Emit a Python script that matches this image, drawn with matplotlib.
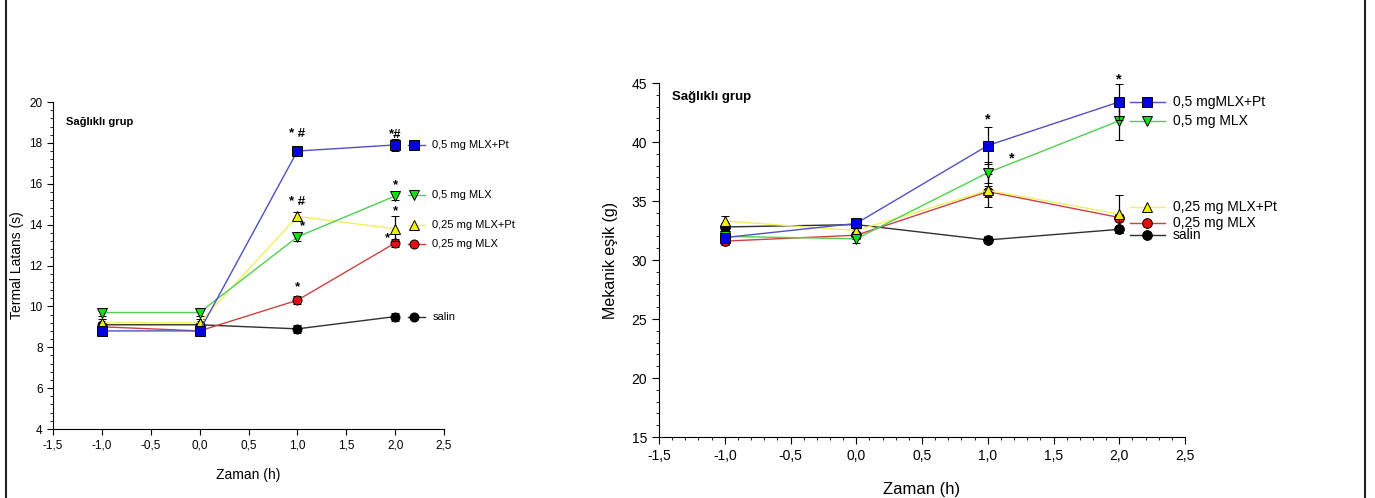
import matplotlib
matplotlib.use("Agg")
import matplotlib.pyplot as plt
from matplotlib.ticker import MultipleLocator, FuncFormatter
from matplotlib.lines import Line2D

plt.rcParams["font.family"] = ["Liberation Sans", "DejaVu Sans"]

# time points (h)
t = [-1.0, 0.0, 1.0, 2.0]

# left panel: thermal latency (s)
names_l = ["0,5 mg MLX+Pt", "0,5 mg MLX", "0,25 mg MLX+Pt", "0,25 mg MLX", "salin"]
therm = {
    "0,5 mg MLX+Pt": [8.8, 8.8, 17.6, 17.9],
    "0,5 mg MLX": [9.7, 9.7, 13.4, 15.4],
    "0,25 mg MLX+Pt": [9.2, 9.2, 14.4, 13.8],
    "0,25 mg MLX": [9.0, 8.8, 10.3, 13.1],
    "salin": [9.1, 9.1, 8.9, 9.5],
}
therm_err = {
    "0,5 mg MLX+Pt": [0.15, 0.15, 0.15, 0.3],
    "0,5 mg MLX": [0.15, 0.15, 0.2, 0.2],
    "0,25 mg MLX+Pt": [0.2, 0.2, 0.2, 0.6],
    "0,25 mg MLX": [0.15, 0.15, 0.2, 0.2],
    "salin": [0.15, 0.15, 0.2, 0.2],
}
leg_y_l = [17.9, 15.45, 14.0, 13.05, 9.5]
# significance marks: (x, y, text)
marks_l = [(1.0, 18.45, "* #"), (2.0, 18.4, "*#"), (1.0, 15.1, "* #"),
           (1.05, 13.9, "*"), (1.0, 10.95, "*"), (2.0, 15.95, "*"),
           (2.0, 14.65, "*"), (1.92, 13.35, "*")]

# right panel: mechanical threshold (g)
names_r = ["0,5 mgMLX+Pt", "0,5 mg MLX", "0,25 mg MLX+Pt", "0,25 mg MLX", "salin"]
mech = {
    "0,5 mgMLX+Pt": [31.9, 33.1, 39.7, 43.4],
    "0,5 mg MLX": [32.0, 31.8, 37.4, 41.8],
    "0,25 mg MLX+Pt": [33.3, 32.5, 35.9, 33.9],
    "0,25 mg MLX": [31.6, 32.1, 35.8, 33.6],
    "salin": [32.8, 33.0, 31.7, 32.6],
}
mech_err = {
    "0,5 mgMLX+Pt": [0.4, 0.3, 1.6, 1.5],
    "0,5 mg MLX": [0.3, 0.4, 0.9, 1.6],
    "0,25 mg MLX+Pt": [0.4, 0.3, 1.4, 1.6],
    "0,25 mg MLX": [0.3, 0.3, 0.5, 0.3],
    "salin": [0.3, 0.3, 0.3, 0.3],
}
leg_y_r = [43.4, 41.8, 34.5, 33.1, 32.1]
marks_r = [(1.0, 41.9, "*"), (1.18, 38.6, "*"), (2.0, 45.3, "*")]

colors = ["#0000e0", "#10e010", "#f0f000", "#e01010", "#000000"]
lines_c = ["#5050c8", "#50d050", "#f0f060", "#d04040", "#303030"]
markers = ["s", "v", "^", "o", "o"]

comma = FuncFormatter(lambda v, p: f"{v:.1f}".replace(".", ","))

fig = plt.figure(figsize=(13.75, 4.98), dpi=100)
ax1 = fig.add_axes([53 / 1375, 1 - 429 / 498, 391 / 1375, 327 / 498])
ax2 = fig.add_axes([659 / 1375, 1 - 437 / 498, 526 / 1375, 354 / 498])

# frame lines at left and right of the picture
fig.add_artist(Line2D([6 / 1375, 6 / 1375], [0, 1], color="#222", lw=1.5))
fig.add_artist(Line2D([1365 / 1375, 1365 / 1375], [0, 1], color="#222", lw=1.5))


def panel(ax, names, data, err, leg_y, leg_x, marks, ms, fs_leg, fs_mark):
    for i, n in enumerate(names[::-1]):
        k = len(names) - 1 - i
        ax.errorbar(t, data[n], yerr=err[n], color=lines_c[k], lw=1, ecolor="black",
                    elinewidth=0.9, capsize=3, marker=markers[k], ms=ms,
                    mfc=colors[k], mec="black", mew=0.7, zorder=2 + i)
        x0, xm, x1, xt = leg_x
        ax.plot([x0, x1], [leg_y[k]] * 2, color=lines_c[k], lw=1, clip_on=False)
        ax.plot([xm], [leg_y[k]], marker=markers[k], ms=ms, mfc=colors[k],
                mec="black", mew=0.7, clip_on=False)
        ax.text(xt, leg_y[k], names[k], fontsize=fs_leg, va="center", ha="left")
    for x, y, s in marks:
        ax.text(x, y, s, ha="center", va="center", fontsize=fs_mark,
                fontweight="bold", zorder=20)
    ax.spines["top"].set_visible(False)
    ax.spines["right"].set_visible(False)
    ax.set_xlim(-1.5, 2.5)
    ax.xaxis.set_major_locator(MultipleLocator(0.5))
    ax.xaxis.set_major_formatter(comma)


panel(ax1, names_l, therm, therm_err, leg_y_l, (2.13, 2.19, 2.31, 2.38), marks_l, 6.5, 8, 9.5)
ax1.set_ylim(4, 20)
ax1.yaxis.set_major_locator(MultipleLocator(2))
ax1.yaxis.set_minor_locator(MultipleLocator(0.4))
ax1.tick_params(labelsize=8.5, length=4, width=0.8)
ax1.tick_params(which="minor", length=2, width=0.6)
ax1.set_xlabel("Zaman (h)", fontsize=10, labelpad=12)
ax1.set_ylabel("Termal Latans (s)", fontsize=10, labelpad=4)
ax1.text(-1.37, 19.0, "Sağlıklı grup", fontsize=8, fontweight="bold", va="center")

panel(ax2, names_r, mech, mech_err, leg_y_r, (2.08, 2.21, 2.35, 2.41), marks_r, 7, 10, 10.5)
ax2.set_ylim(15, 45)
ax2.yaxis.set_major_locator(MultipleLocator(5))
ax2.yaxis.set_minor_locator(MultipleLocator(1))
ax2.xaxis.set_minor_locator(MultipleLocator(0.1))
ax2.tick_params(labelsize=10, length=5, width=0.8)
ax2.tick_params(which="minor", length=2.5, width=0.6)
ax2.set_xlabel("Zaman (h)", fontsize=12, labelpad=14)
ax2.set_ylabel("Mekanik eşik (g)", fontsize=11.5, labelpad=10)
ax2.text(-1.4, 43.8, "Sağlıklı grup", fontsize=9.5, fontweight="bold", va="center")

fig.savefig("out.png", dpi=100)
